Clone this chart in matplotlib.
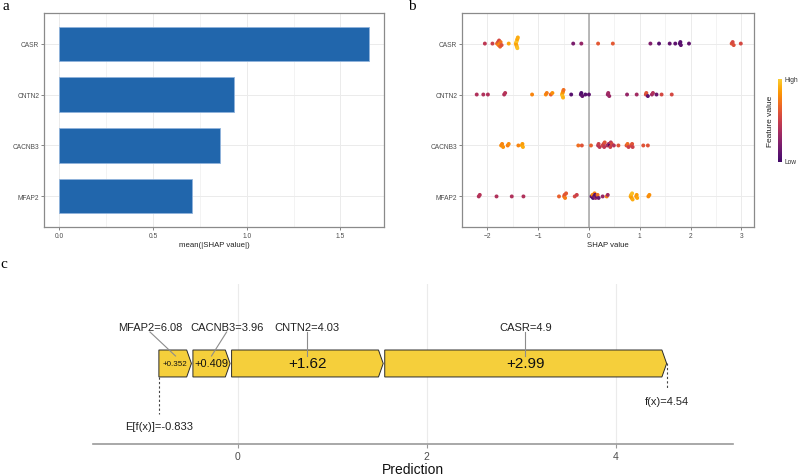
import numpy as np
import matplotlib
matplotlib.use("Agg")
import matplotlib.pyplot as plt
from matplotlib.colors import LinearSegmentedColormap, Normalize
from matplotlib.patches import Polygon
import matplotlib.colorbar as mcolorbar

plt.rcParams['font.family'] = ['Liberation Sans', 'DejaVu Sans']

# ---------------- data ----------------
features = ["MFAP2", "CACNB3", "CNTN2", "CASR"]          # bottom -> top
mean_abs_shap = [0.71, 0.856, 0.93, 1.65]

casr_shap = [-2.05, -1.90, -1.81, -1.79, -1.78, -1.77, -1.76, -1.75, -1.74, -1.72,
             -1.58, -1.44, -1.43, -1.43, -1.42, -1.42, -1.41, -1.41, -1.40,
             -0.31, -0.15, 0.18, 0.47, 1.21, 1.38, 1.59, 1.70, 1.79, 1.80, 1.81,
             1.97, 2.81, 2.83, 2.85, 2.99]
casr_feat = [0.45, 0.50, 0.70, 0.60, 0.75, 0.55, 0.80, 0.65, 0.72, 0.58,
             0.88, 0.90, 0.95, 0.85, 0.97, 0.92, 0.88, 0.96, 0.90,
             0.20, 0.30, 0.62, 0.62, 0.22, 0.08, 0.12, 0.10, 0.05, 0.08, 0.10,
             0.12, 0.60, 0.55, 0.58, 0.55]

cntn2_shap = [-2.21, -2.08, -1.99, -1.67, -1.65, -1.12, -0.85, -0.83, -0.75, -0.72,
              -0.53, -0.52, -0.52, -0.51, -0.51, -0.50, -0.35, -0.16, -0.15, -0.13,
              -0.07, 0.00, 0.37, 0.38, 0.40, 0.75, 0.94, 1.12, 1.13, 1.16,
              1.24, 1.26, 1.33, 1.43, 1.63]
cntn2_feat = [0.40, 0.40, 0.40, 0.40, 0.42, 0.78, 0.80, 0.75, 0.65, 0.82,
              0.90, 0.85, 0.95, 0.80, 0.92, 0.70, 0.08, 0.10, 0.05, 0.12,
              0.08, 0.10, 0.30, 0.35, 0.32, 0.30, 0.35, 0.55, 0.60, 0.10,
              0.35, 0.40, 0.15, 0.55, 0.55]

cacnb3_shap = [-1.73, -1.71, -1.69, -1.60, -1.58, -1.39, -1.32, -1.31, -1.30, -0.21,
               -0.14, 0.04, 0.18, 0.19, 0.21, 0.27, 0.29, 0.30, 0.31, 0.36,
               0.39, 0.41, 0.42, 0.43, 0.45, 0.49, 0.58, 0.74, 0.76, 0.78,
               0.83, 0.85, 0.86, 1.07, 1.16]
cacnb3_feat = [0.80, 0.78, 0.82, 0.75, 0.80, 0.78, 0.88, 0.85, 0.90, 0.70,
               0.60, 0.65, 0.40, 0.50, 0.45, 0.55, 0.50, 0.45, 0.60, 0.40,
               0.35, 0.05, 0.50, 0.45, 0.55, 0.40, 0.60, 0.60, 0.70, 0.50,
               0.55, 0.60, 0.50, 0.60, 0.60]

mfap2_shap = [-2.17, -2.15, -1.82, -1.52, -1.29, -0.59, -0.49, -0.48, -0.47, -0.45,
              -0.28, -0.24, 0.05, 0.07, 0.08, 0.10, 0.11, 0.12, 0.13, 0.15,
              0.17, 0.19, 0.27, 0.35, 0.37, 0.82, 0.83, 0.84, 0.85, 0.86,
              0.93, 0.94, 0.95, 1.17, 1.19]
mfap2_feat = [0.40, 0.42, 0.40, 0.40, 0.40, 0.65, 0.70, 0.60, 0.75, 0.62,
              0.55, 0.50, 0.10, 0.80, 0.05, 0.20, 0.75, 0.08, 0.30, 0.12,
              0.70, 0.15, 0.30, 0.75, 0.35, 0.88, 0.92, 0.85, 0.95, 0.90,
              0.82, 0.85, 0.88, 0.80, 0.82]

shap_by_feature = {"CASR": casr_shap, "CNTN2": cntn2_shap,
                   "CACNB3": cacnb3_shap, "MFAP2": mfap2_shap}
feat_by_feature = {"CASR": casr_feat, "CNTN2": cntn2_feat,
                   "CACNB3": cacnb3_feat, "MFAP2": mfap2_feat}

# force plot
base_value = -0.833
force_features = ["MFAP2", "CACNB3", "CNTN2", "CASR"]
force_values = [0.352, 0.409, 1.62, 2.99]
force_feature_values = ["6.08", "3.96", "4.03", "4.9"]
prediction = 4.54
force_ticks = [0, 2, 4]

# ---------------- styling ----------------
W, H = 798, 477
fig = plt.figure(figsize=(W / 100, H / 100), dpi=100)

def fbox(x0, y0, x1, y1):
    return [x0 / W, 1 - y1 / H, (x1 - x0) / W, (y1 - y0) / H]

grid_c = '#ebebeb'
txt_c = '#4d4d4d'
frame_c = '#8a8a8a'

def style_axes(ax):
    for s in ax.spines.values():
        s.set_color(frame_c)
        s.set_linewidth(0.9)
    ax.tick_params(axis='both', which='major', length=2, width=0.5, color='#555555',
                   labelsize=4.8, labelcolor=txt_c, pad=1.5)
    ax.tick_params(axis='both', which='minor', length=0)
    ax.set_axisbelow(True)
    ax.grid(which='major', color=grid_c, lw=0.7)
    ax.grid(which='minor', axis='x', color=grid_c, lw=0.4)

ypos = np.arange(1, len(features) + 1)

# ---- panel a ----
axa = fig.add_axes(fbox(44, 14, 384, 228))
axa.barh(ypos, mean_abs_shap, height=0.67, color='#2166ac', edgecolor='#8fb3dc', linewidth=0.6)
axa.set_ylim(0.4, 4.6)
axa.set_xlim(-0.0825, 1.7325)
axa.set_yticks(ypos)
axa.set_yticklabels(features)
axa.set_xticks([0, 0.5, 1.0, 1.5])
axa.set_xticklabels(["0.0", "0.5", "1.0", "1.5"])
axa.set_xticks([0.25, 0.75, 1.25], minor=True)
style_axes(axa)
axa.set_xlabel("mean(|SHAP value|)", fontsize=5.6, color='#222222', labelpad=1.5)

# ---- panel b ----
cmap = LinearSegmentedColormap.from_list("trunc_inferno",
                                         plt.get_cmap('inferno')(np.linspace(0.2, 0.88, 256)))
norm = Normalize(0, 1)

def swarm(xv, base, dx=0.045, dy=0.03):
    xv = np.asarray(xv, float)
    order = np.argsort(xv, kind='stable')
    placed = []
    ys = np.zeros(len(xv))
    for i in order:
        x = xv[i]
        off = 0.0
        for k in range(0, 60):
            off = ((k + 1) // 2) * dy * (1 if k % 2 else -1)
            if all(abs(x - px) >= dx or abs(off - py) >= dy for px, py in placed):
                break
        placed.append((x, off))
        ys[i] = base + off
    return ys

axb = fig.add_axes(fbox(462, 14, 754, 228))
axb.axvline(0, color='#a6a6a6', lw=1.1, zorder=1)
for yp, f in zip(ypos, features):
    xs = np.asarray(shap_by_feature[f])
    ys = swarm(xs, yp)
    axb.scatter(xs, ys, c=feat_by_feature[f], cmap=cmap, norm=norm, s=8, linewidths=0, zorder=3)
axb.set_ylim(0.4, 4.6)
axb.set_xlim(-2.47, 3.25)
axb.set_yticks(ypos)
axb.set_yticklabels(features)
axb.set_xticks([-2, -1, 0, 1, 2, 3])
axb.set_xticks([-2.5, -1.5, -0.5, 0.5, 1.5, 2.5], minor=True)
style_axes(axb)
axb.set_xlabel("SHAP value", fontsize=5.6, color='#222222', labelpad=1.5)

cax = fig.add_axes(fbox(778, 80, 782, 163))
cb = mcolorbar.ColorbarBase(cax, cmap=cmap, norm=norm, orientation='vertical')
cb.outline.set_visible(False)
cax.set_yticks([])
cax.text(1.6, 1.0, "High", transform=cax.transAxes, fontsize=4.8, color='#333333', va='center', ha='left')
cax.text(1.6, 0.0, "Low", transform=cax.transAxes, fontsize=4.8, color='#333333', va='center', ha='left')
fig.text(770 / W, 1 - 121 / H, "Feature value", rotation=90, fontsize=6, color='#222222',
         ha='center', va='center')

# ---- panel c ----
axc = fig.add_axes(fbox(93, 285, 733, 445))
axc.set_xlim(-1.53, 5.24)
axc.set_ylim(0, 1)
for s in ['top', 'right', 'left']:
    axc.spines[s].set_visible(False)
axc.spines['bottom'].set_color('#9a9a9a')
axc.spines['bottom'].set_linewidth(1.2)
axc.set_yticks([])
axc.set_xticks(force_ticks)
axc.set_xticklabels([str(t) for t in force_ticks])
axc.tick_params(axis='x', length=3, width=0.8, color='#9a9a9a', labelsize=7.5, labelcolor=txt_c, pad=2)
for t in force_ticks:
    axc.axvline(t, color=grid_c, lw=0.8, zorder=0)
axc.set_xlabel("Prediction", fontsize=10, color='#111111', labelpad=1)

y_bot, y_top = 0.419, 0.5875
y_mid = (y_bot + y_top) / 2
tip = 0.05
gap = 0.008
text_sizes = [5.8, 7.9, 11, 11]
label_offsets = [-0.27, 0.16, 0.0, 0.0]
ends = base_value + np.cumsum(force_values)
starts = ends - np.asarray(force_values)
for i, (f, v, fv) in enumerate(zip(force_features, force_values, force_feature_values)):
    s0 = starts[i] + (gap if i > 0 else 0)
    e0 = ends[i] - (gap if i < len(force_values) - 1 else 0)
    poly = Polygon([(s0, y_bot), (e0 - tip, y_bot), (e0, y_mid), (e0 - tip, y_top), (s0, y_top)],
                   closed=True, facecolor='#f5cf3b', edgecolor='#2a2a2a', lw=0.7, zorder=3)
    axc.add_patch(poly)
    cx = (starts[i] + ends[i]) / 2
    axc.text(cx, y_mid, f"+{v:g}", fontsize=text_sizes[i], ha='center', va='center',
             color='#111111', zorder=5)
    lx = cx + label_offsets[i]
    axc.plot([lx, cx], [0.70, 0.55], color='#8c8c8c', lw=0.8, zorder=4)
    axc.text(lx, 0.731, f"{f}={fv}", fontsize=8, ha='center', va='center', color='#222222')

axc.plot([base_value, base_value], [y_bot, 0.1875], color='#444444', lw=0.8, ls=(0, (2, 2)))
axc.text(base_value, 0.1125, f"E[f(x)]={base_value:g}", fontsize=8, ha='center', va='center', color='#222222')
axc.plot([prediction, prediction], [y_mid, 0.344], color='#444444', lw=0.8, ls=(0, (2, 2)))
axc.text(prediction, 0.269, f"f(x)={prediction:g}", fontsize=8, ha='center', va='center', color='#222222')

# panel letters
for lab, (x, y) in zip(["a", "b", "c"], [(6, 7), (412, 7), (4, 265)]):
    fig.text(x / W, 1 - y / H, lab, fontsize=11, family='Liberation Serif', ha='center', va='center')

fig.savefig("out.png", dpi=100)
